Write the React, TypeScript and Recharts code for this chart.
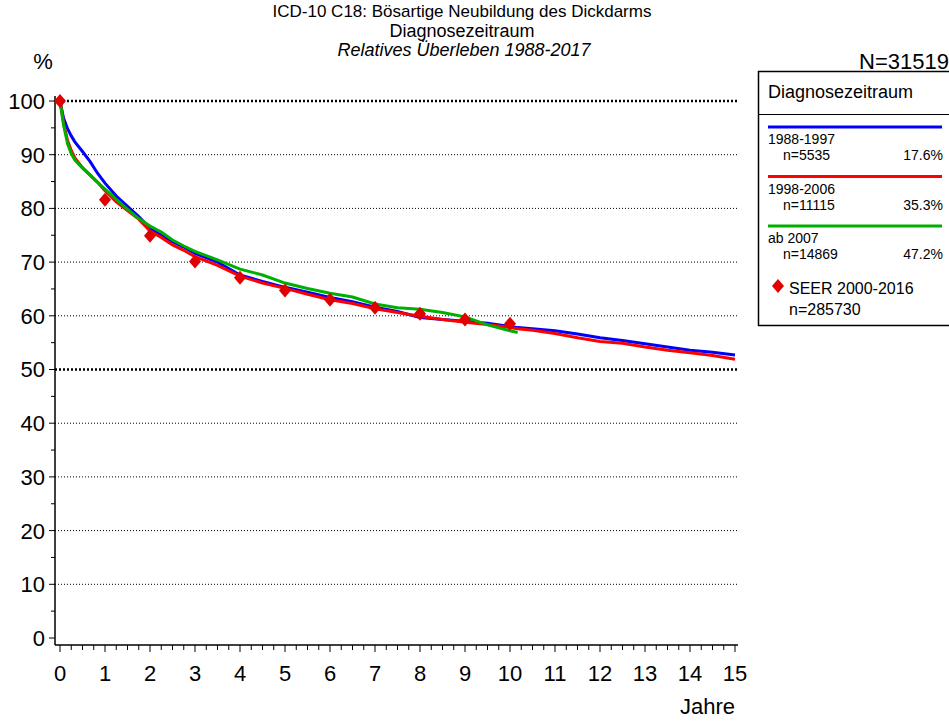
import React from 'react';
import { ComposedChart, Line, Scatter, XAxis, YAxis, ReferenceLine } from 'recharts';

// Jahre seit Diagnose
const years = [0, 0.08, 0.17, 0.25, 0.33, 0.5, 0.67, 0.83, 1, 1.25, 1.5, 1.75, 2, 2.25, 2.5, 2.75, 3, 3.5, 4, 4.5, 5, 5.5, 6, 6.5, 7, 7.5, 8, 8.5, 9, 9.5, 10, 10.17, 10.5, 11, 11.5, 12, 12.5, 13, 13.5, 14, 14.5, 15];

// relatives Ueberleben in %
const surv1988 = [100, 96.8, 94.8, 93.5, 92.4, 90.6, 88.7, 86.6, 84.7, 82.3, 80.4, 78.5, 76.3, 75.0, 73.8, 72.8, 71.6, 70.0, 67.6, 66.4, 65.3, 64.4, 63.4, 62.6, 61.6, 60.8, 59.7, 59.3, 59.0, 58.6, 58.0, 57.8, 57.6, 57.2, 56.6, 55.9, 55.4, 54.8, 54.2, 53.6, 53.2, 52.7];
const surv1998 = [100, 95.8, 92.6, 90.8, 89.4, 87.6, 86.2, 84.9, 83.3, 81.2, 79.6, 78.0, 75.8, 74.6, 73.2, 72.2, 71.0, 69.4, 67.4, 66.1, 65.1, 64.0, 63.0, 62.3, 61.3, 60.6, 59.9, 59.3, 58.8, 58.4, 57.8, 57.6, 57.3, 56.7, 55.9, 55.2, 54.9, 54.2, 53.6, 53.1, 52.6, 51.9];
const surv2007 = [100, 95.5, 92.0, 90.2, 89.0, 87.5, 86.2, 84.9, 83.6, 81.7, 79.8, 78.1, 76.7, 75.6, 74.1, 73.0, 72.0, 70.4, 68.7, 67.6, 66.1, 65.1, 64.2, 63.5, 62.2, 61.5, 61.2, 60.6, 59.8, 58.3, 57.2, 56.9, null, null, null, null, null, null, null, null, null, null];

const seerYears = [0, 1, 2, 3, 4, 5, 6, 7, 8, 9, 10];
const seerSurv = [100, 81.6, 74.9, 70.1, 67.1, 64.7, 63.0, 61.5, 60.4, 59.3, 58.5];

const seriesNames = ['1988-1997', '1998-2006', 'ab 2007'];
const seriesN = ['n=5535', 'n=11115', 'n=14869'];
const seriesPct = ['17.6%', '35.3%', '47.2%'];
const colors = ['#0000ff', '#ff0000', '#00b000'];
const seerColor = '#e00000';

const yTicks = [0, 5, 10, 15, 20, 25, 30, 35, 40, 45, 50, 55, 60, 65, 70, 75, 80, 85, 90, 95, 100];
const gridValues = [10, 20, 30, 40, 50, 60, 70, 80, 90, 100];
const xTicks: number[] = [];
for (let i = 0; i <= 60; i++) xTicks.push(i / 4);

const FONT = "'Liberation Sans', Arial, sans-serif";

const data = years.map((year, i) => ({
  year,
  p1: surv1988[i],
  p2: surv1998[i],
  p3: surv2007[i],
}));
const seerData = seerYears.map((year, i) => ({ year, seer: seerSurv[i] }));

const YTick = (props: any) => {
  const { x, y, payload } = props;
  const major = payload.value % 10 === 0;
  return (
    <g>
      <line x1={x - (major ? 6 : 4)} x2={x} y1={y} y2={y} stroke="#000" strokeWidth={1} />
      {major && (
        <text x={x - 10} y={y} dy="0.36em" textAnchor="end" fontSize={22} fontFamily={FONT} fill="#000">
          {payload.value}
        </text>
      )}
    </g>
  );
};

const XTick = (props: any) => {
  const { x, y, payload } = props;
  const major = Number.isInteger(payload.value);
  return (
    <g>
      <line x1={x} x2={x} y1={y} y2={y + (major ? 7 : 5)} stroke="#000" strokeWidth={1} />
      {major && (
        <text x={x} y={y + 36} textAnchor="middle" fontSize={22} fontFamily={FONT} fill="#000">
          {payload.value}
        </text>
      )}
    </g>
  );
};

const Diamond = (props: any) => {
  const { cx, cy, fill } = props;
  return <path d={`M${cx},${cy - 7}L${cx + 6},${cy}L${cx},${cy + 7}L${cx - 6},${cy}Z`} fill={fill} />;
};

export default function App() {
  return (
    <div style={{ position: 'relative', width: 949, height: 726, background: '#fff' }}>
      <style>{`body{margin:0}`}</style>
      <ComposedChart width={949} height={726} data={data} margin={{ top: 96, right: 211, bottom: 41, left: 5 }}>
        {gridValues.map((v) => (
          <ReferenceLine
            key={v}
            y={v}
            stroke="#000"
            strokeWidth={v % 50 === 0 ? 2.5 : 1}
            strokeDasharray={v % 50 === 0 ? '2 2' : '1 2'}
          />
        ))}
        <XAxis
          dataKey="year"
          type="number"
          domain={[0, 15]}
          ticks={xTicks}
          interval={0}
          padding={{ left: 5, right: 3 }}
          height={40}
          tickSize={0}
          tickMargin={0}
          tickLine={false}
          axisLine={{ stroke: '#000', strokeWidth: 1.5 }}
          tick={<XTick />}
        />
        <YAxis
          type="number"
          domain={[0, 100]}
          ticks={yTicks}
          interval={0}
          padding={{ top: 5, bottom: 7 }}
          width={50}
          tickSize={0}
          tickMargin={0}
          tickLine={false}
          axisLine={{ stroke: '#000', strokeWidth: 1.5 }}
          tick={<YTick />}
        />
        <Line dataKey="p1" stroke={colors[0]} strokeWidth={3} dot={false} isAnimationActive={false} />
        <Line dataKey="p2" stroke={colors[1]} strokeWidth={3} dot={false} isAnimationActive={false} />
        <Line dataKey="p3" stroke={colors[2]} strokeWidth={3} dot={false} isAnimationActive={false} />
        <Scatter data={seerData} dataKey="seer" fill={seerColor} shape={<Diamond />} isAnimationActive={false} />
      </ComposedChart>

      <svg width={949} height={726} style={{ position: 'absolute', left: 0, top: 0, pointerEvents: 'none' }} fontFamily={FONT}>
        <text x={462} y={17} textAnchor="middle" fontSize={17}>ICD-10 C18: Bösartige Neubildung des Dickdarms</text>
        <text x={462} y={37} textAnchor="middle" fontSize={18}>Diagnosezeitraum</text>
        <text x={464} y={56} textAnchor="middle" fontSize={18} fontStyle="italic">Relatives Überleben 1988-2017</text>
        <text x={43} y={69} textAnchor="middle" fontSize={22}>%</text>
        <text x={949} y={69} textAnchor="end" fontSize={22}>N=31519</text>
        <text x={735} y={714} textAnchor="end" fontSize={22}>Jahre</text>

        <rect x={758.5} y={71.5} width={200} height={254} fill="none" stroke="#000" strokeWidth={1.5} />
        <text x={768} y={98} fontSize={18}>Diagnosezeitraum</text>
        <line x1={758} x2={949} y1={114.5} y2={114.5} stroke="#000" strokeWidth={1} />
        {seriesNames.map((name, i) => {
          const top = 127 + i * 49.5;
          return (
            <g key={name}>
              <line x1={768} x2={942} y1={top} y2={top} stroke={colors[i]} strokeWidth={3} />
              <text x={768} y={top + 17} fontSize={14}>{name}</text>
              <text x={783} y={top + 33} fontSize={14}>{seriesN[i]}</text>
              <text x={943} y={top + 33} fontSize={14} textAnchor="end">{seriesPct[i]}</text>
            </g>
          );
        })}
        <path d="M778,279L784,286L778,293L772,286Z" fill={seerColor} />
        <text x={789} y={294} fontSize={16}>SEER 2000-2016</text>
        <text x={789} y={315} fontSize={16}>n=285730</text>
      </svg>
    </div>
  );
}
